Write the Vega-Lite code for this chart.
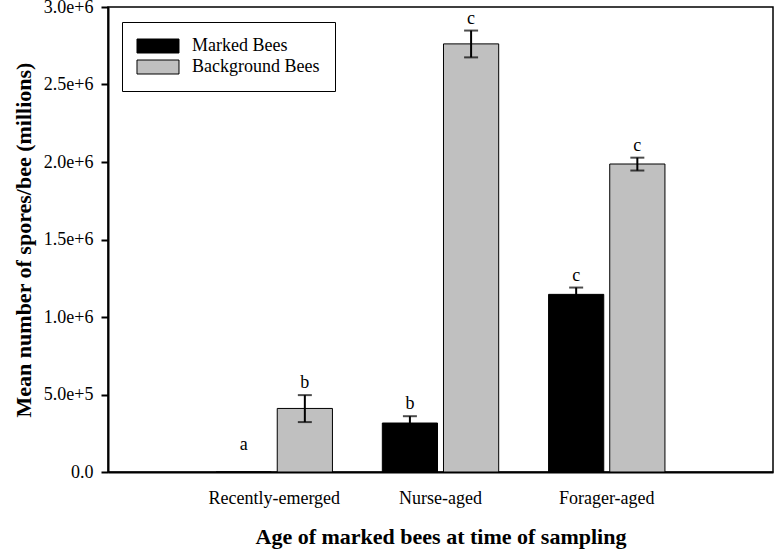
{
  "$schema": "https://vega.github.io/schema/vega-lite/v6.json",
  "width": 665,
  "height": 465,
  "autosize": {"type": "none"},
  "padding": {"left": 108, "top": 7, "right": 1, "bottom": 79},
  "background": "white",
  "config": {
    "font": "Liberation Serif",
    "view": {"stroke": "black", "strokeWidth": 1.5},
    "axis": {"grid": false, "domainColor": "black", "domainWidth": 2, "tickColor": "black", "tickWidth": 2, "labelColor": "black", "labelFontSize": 18, "titleFontSize": 22, "titleFontWeight": "bold", "titleColor": "black", "labelFont": "Liberation Serif", "titleFont": "Liberation Serif"}
  },
  "data": {
    "values": [
      {"cat": "Recently-emerged", "group": "Marked Bees", "mean": 0, "lo": null, "hi": null, "letter": "a"},
      {"cat": "Recently-emerged", "group": "Background Bees", "mean": 410000, "lo": 322000, "hi": 496000, "letter": "b"},
      {"cat": "Nurse-aged", "group": "Marked Bees", "mean": 316000, "lo": 272000, "hi": 360000, "letter": "b"},
      {"cat": "Nurse-aged", "group": "Background Bees", "mean": 2762000, "lo": 2675000, "hi": 2848000, "letter": "c"},
      {"cat": "Forager-aged", "group": "Marked Bees", "mean": 1146000, "lo": 1102000, "hi": 1190000, "letter": "c"},
      {"cat": "Forager-aged", "group": "Background Bees", "mean": 1987000, "lo": 1945000, "hi": 2028000, "letter": "c"}
    ]
  },
  "encoding": {
    "x": {
      "field": "cat", "type": "nominal", "sort": ["Recently-emerged", "Nurse-aged", "Forager-aged"],
      "scale": {"paddingInner": 0.3, "paddingOuter": 0.65},
      "axis": {"title": "Age of marked bees at time of sampling", "labelAngle": 0, "ticks": false, "labelPadding": 17, "titlePadding": 19}
    },
    "xOffset": {"field": "group", "type": "nominal", "sort": ["Marked Bees", "Background Bees"], "scale": {"paddingInner": 0.098, "paddingOuter": 0}}
  },
  "layer": [
    {
      "mark": {"type": "bar", "stroke": "black", "strokeWidth": 1},
      "encoding": {
        "y": {
          "field": "mean", "type": "quantitative",
          "scale": {"domain": [0, 3000000], "nice": false},
          "axis": {
            "title": "Mean number of spores/bee (millions)",
            "values": [0, 500000, 1000000, 1500000, 2000000, 2500000, 3000000],
            "labelExpr": "datum.value == 0 ? '0.0' : format(datum.value, '.1e')",
            "tickSize": 7, "labelPadding": 8, "titlePadding": 8
          }
        },
        "color": {
          "field": "group", "type": "nominal", "sort": ["Marked Bees", "Background Bees"],
          "scale": {"domain": ["Marked Bees", "Background Bees"], "range": ["#000000", "#c0c0c0"]},
          "legend": {
            "title": null, "orient": "none", "legendX": 14, "legendY": 15,
            "strokeColor": "black", "fillColor": "white", "padding": 15,
            "symbolType": "M-1.286,-1H4.714V1H-1.286Z", "symbolSize": 196, "symbolStrokeColor": "black", "symbolStrokeWidth": 1, "symbolOpacity": 1,
            "labelFontSize": 18, "labelColor": "black", "labelOffset": 37, "rowPadding": 3
          }
        }
      }
    },
    {
      "mark": {"type": "rule", "color": "black", "strokeWidth": 2},
      "encoding": {"y": {"field": "lo", "type": "quantitative"}, "y2": {"field": "hi"}}
    },
    {
      "mark": {"type": "tick", "color": "black", "size": 14, "thickness": 2},
      "encoding": {"y": {"field": "hi", "type": "quantitative"}}
    },
    {
      "mark": {"type": "tick", "color": "black", "size": 14, "thickness": 2},
      "encoding": {"y": {"field": "lo", "type": "quantitative"}}
    },
    {
      "transform": [{"filter": "datum.hi != null"}],
      "mark": {"type": "text", "fontSize": 18, "color": "black", "baseline": "alphabetic", "dy": -7},
      "encoding": {"y": {"field": "hi", "type": "quantitative"}, "text": {"field": "letter"}}
    },
    {
      "transform": [{"filter": "datum.hi == null"}],
      "mark": {"type": "text", "fontSize": 18, "color": "black", "baseline": "alphabetic", "dy": -22},
      "encoding": {"y": {"field": "mean", "type": "quantitative"}, "text": {"field": "letter"}}
    }
  ]
}
